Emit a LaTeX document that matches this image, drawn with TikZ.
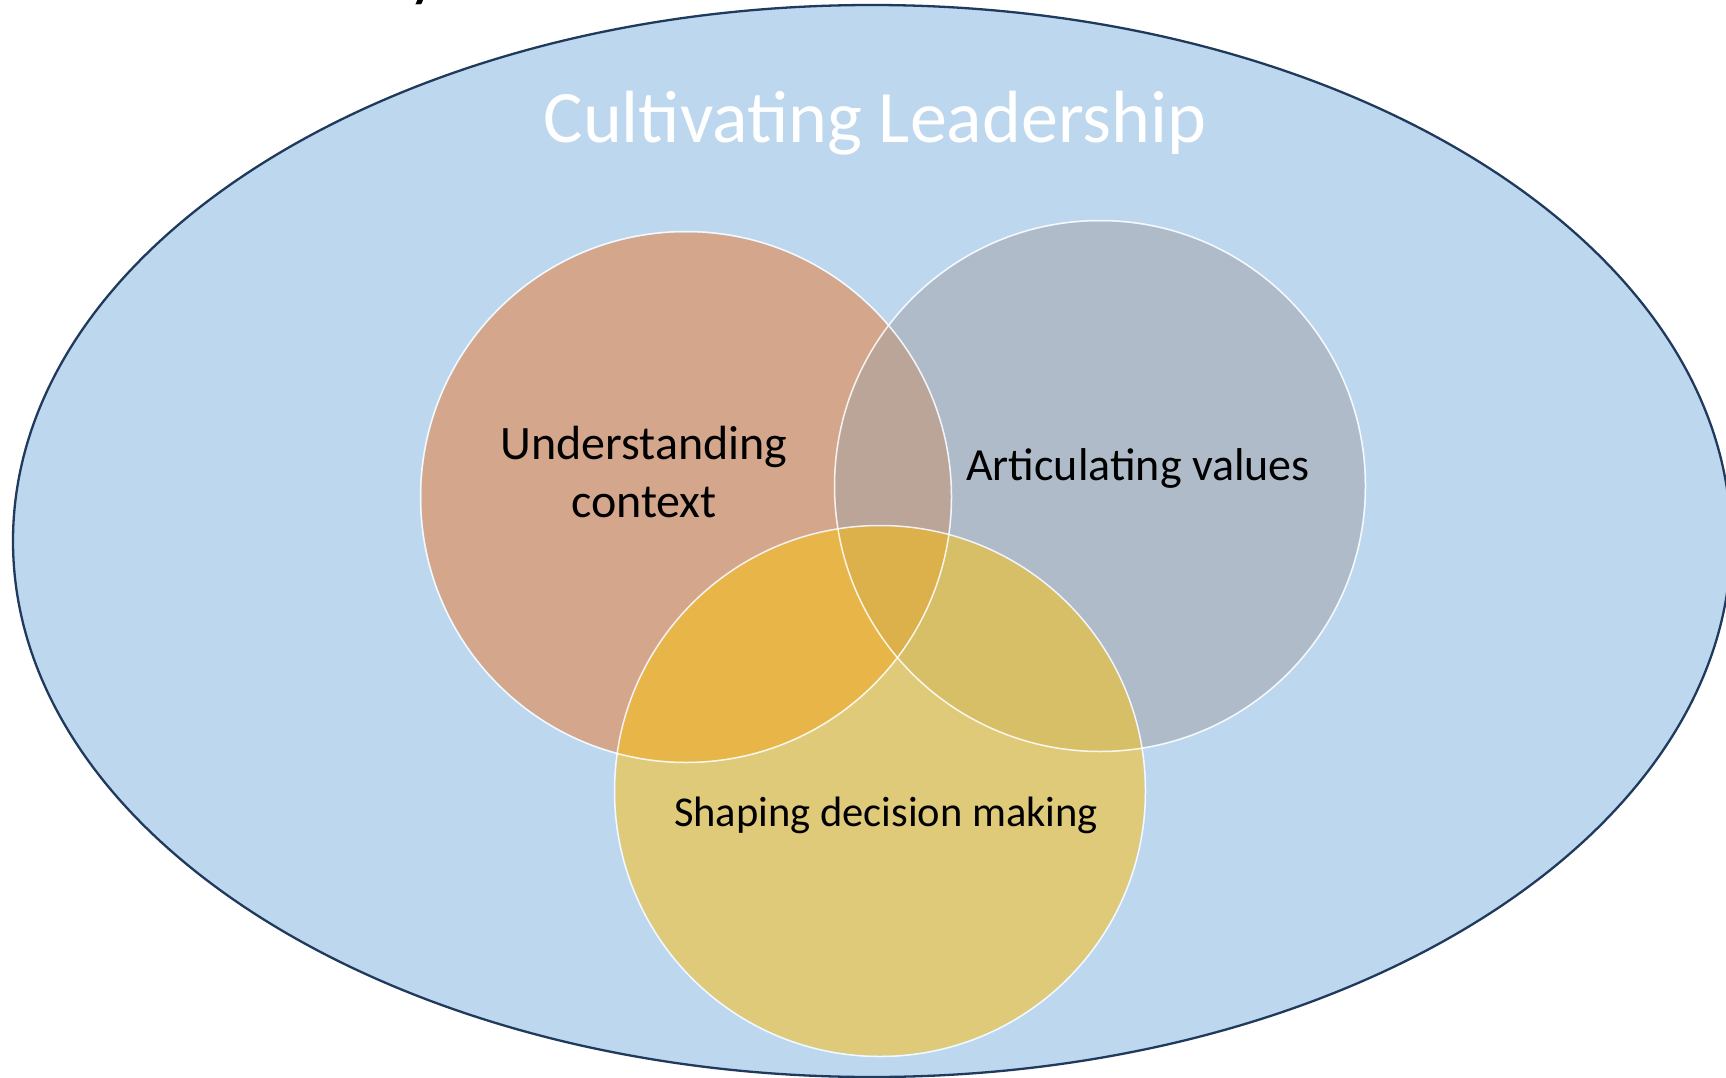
\documentclass[tikz,border=0pt]{standalone}
\usepackage{fontspec}
\setmainfont{Carlito}
\definecolor{bgblue}{HTML}{BDD7EE}
\definecolor{navy}{HTML}{1F3A5C}
\definecolor{corange}{HTML}{D4A78C}
\definecolor{cgray}{HTML}{AFBBC8}
\definecolor{cyellow}{HTML}{DECA78}
\definecolor{coy}{HTML}{E8B548}
\definecolor{cgy}{HTML}{D6BF66}
\definecolor{cog}{HTML}{BBA598}
\definecolor{cogy}{HTML}{DCB04A}
\begin{document}
\begin{tikzpicture}[x=1pt,y=-1pt,
  venn/.style={circle, minimum size=531pt, inner sep=0pt, draw=white, draw opacity=0.85, line width=1.5pt},
  lbl/.style={anchor=base, inner sep=0pt, text=black},
]
\useasboundingbox (0,0) rectangle (1726,1078);
\fill[white] (0,0) rectangle (1726,1078);
% clipped title fragment
\node[anchor=base west, inner sep=0pt, font=\fontsize{70}{84}\selectfont] (frag) at (408,-6) {y};
% outer ellipse
\draw[fill=bgblue, draw=navy, line width=2.3pt] (872,541) ellipse [x radius=859, y radius=536];
\node[lbl, text=white, font=\fontsize{74}{89}\selectfont] (title) at (875,143) {Cultivating Leadership};
% circles fills
\fill[corange] (686,497) circle[radius=264.5];
\fill[cgray] (1100,486) circle[radius=264.5];
\fill[cyellow] (880,791) circle[radius=264.5];
\begin{scope}
  \clip (1100,486) circle[radius=264.5];
  \fill[cgy] (880,791) circle[radius=264.5];
\end{scope}
\begin{scope}
  \clip (686,497) circle[radius=264.5];
  \fill[cog] (1100,486) circle[radius=264.5];
  \fill[coy] (880,791) circle[radius=264.5];
  \clip (1100,486) circle[radius=264.5];
  \fill[cogy] (880,791) circle[radius=264.5];
\end{scope}
% circle nodes (outlines)
\node[venn] (ctx) at (686,497) {};
\node[venn] (val) at (1100,486) {};
\node[venn] (dec) at (880,791) {};
% labels
\node[lbl, font=\fontsize{48}{58}\selectfont] (ctx1) at (644,459) {Understanding};
\node[lbl, font=\fontsize{48}{58}\selectfont] (ctx2) at (644,517) {context};
\node[lbl, font=\fontsize{46}{56}\selectfont] (vallbl) at (1138,480) {Articulating values};
\node[lbl, font=\fontsize{42.5}{51}\selectfont] (declbl) at (886,826) {Shaping decision making};
\end{tikzpicture}
\end{document}
